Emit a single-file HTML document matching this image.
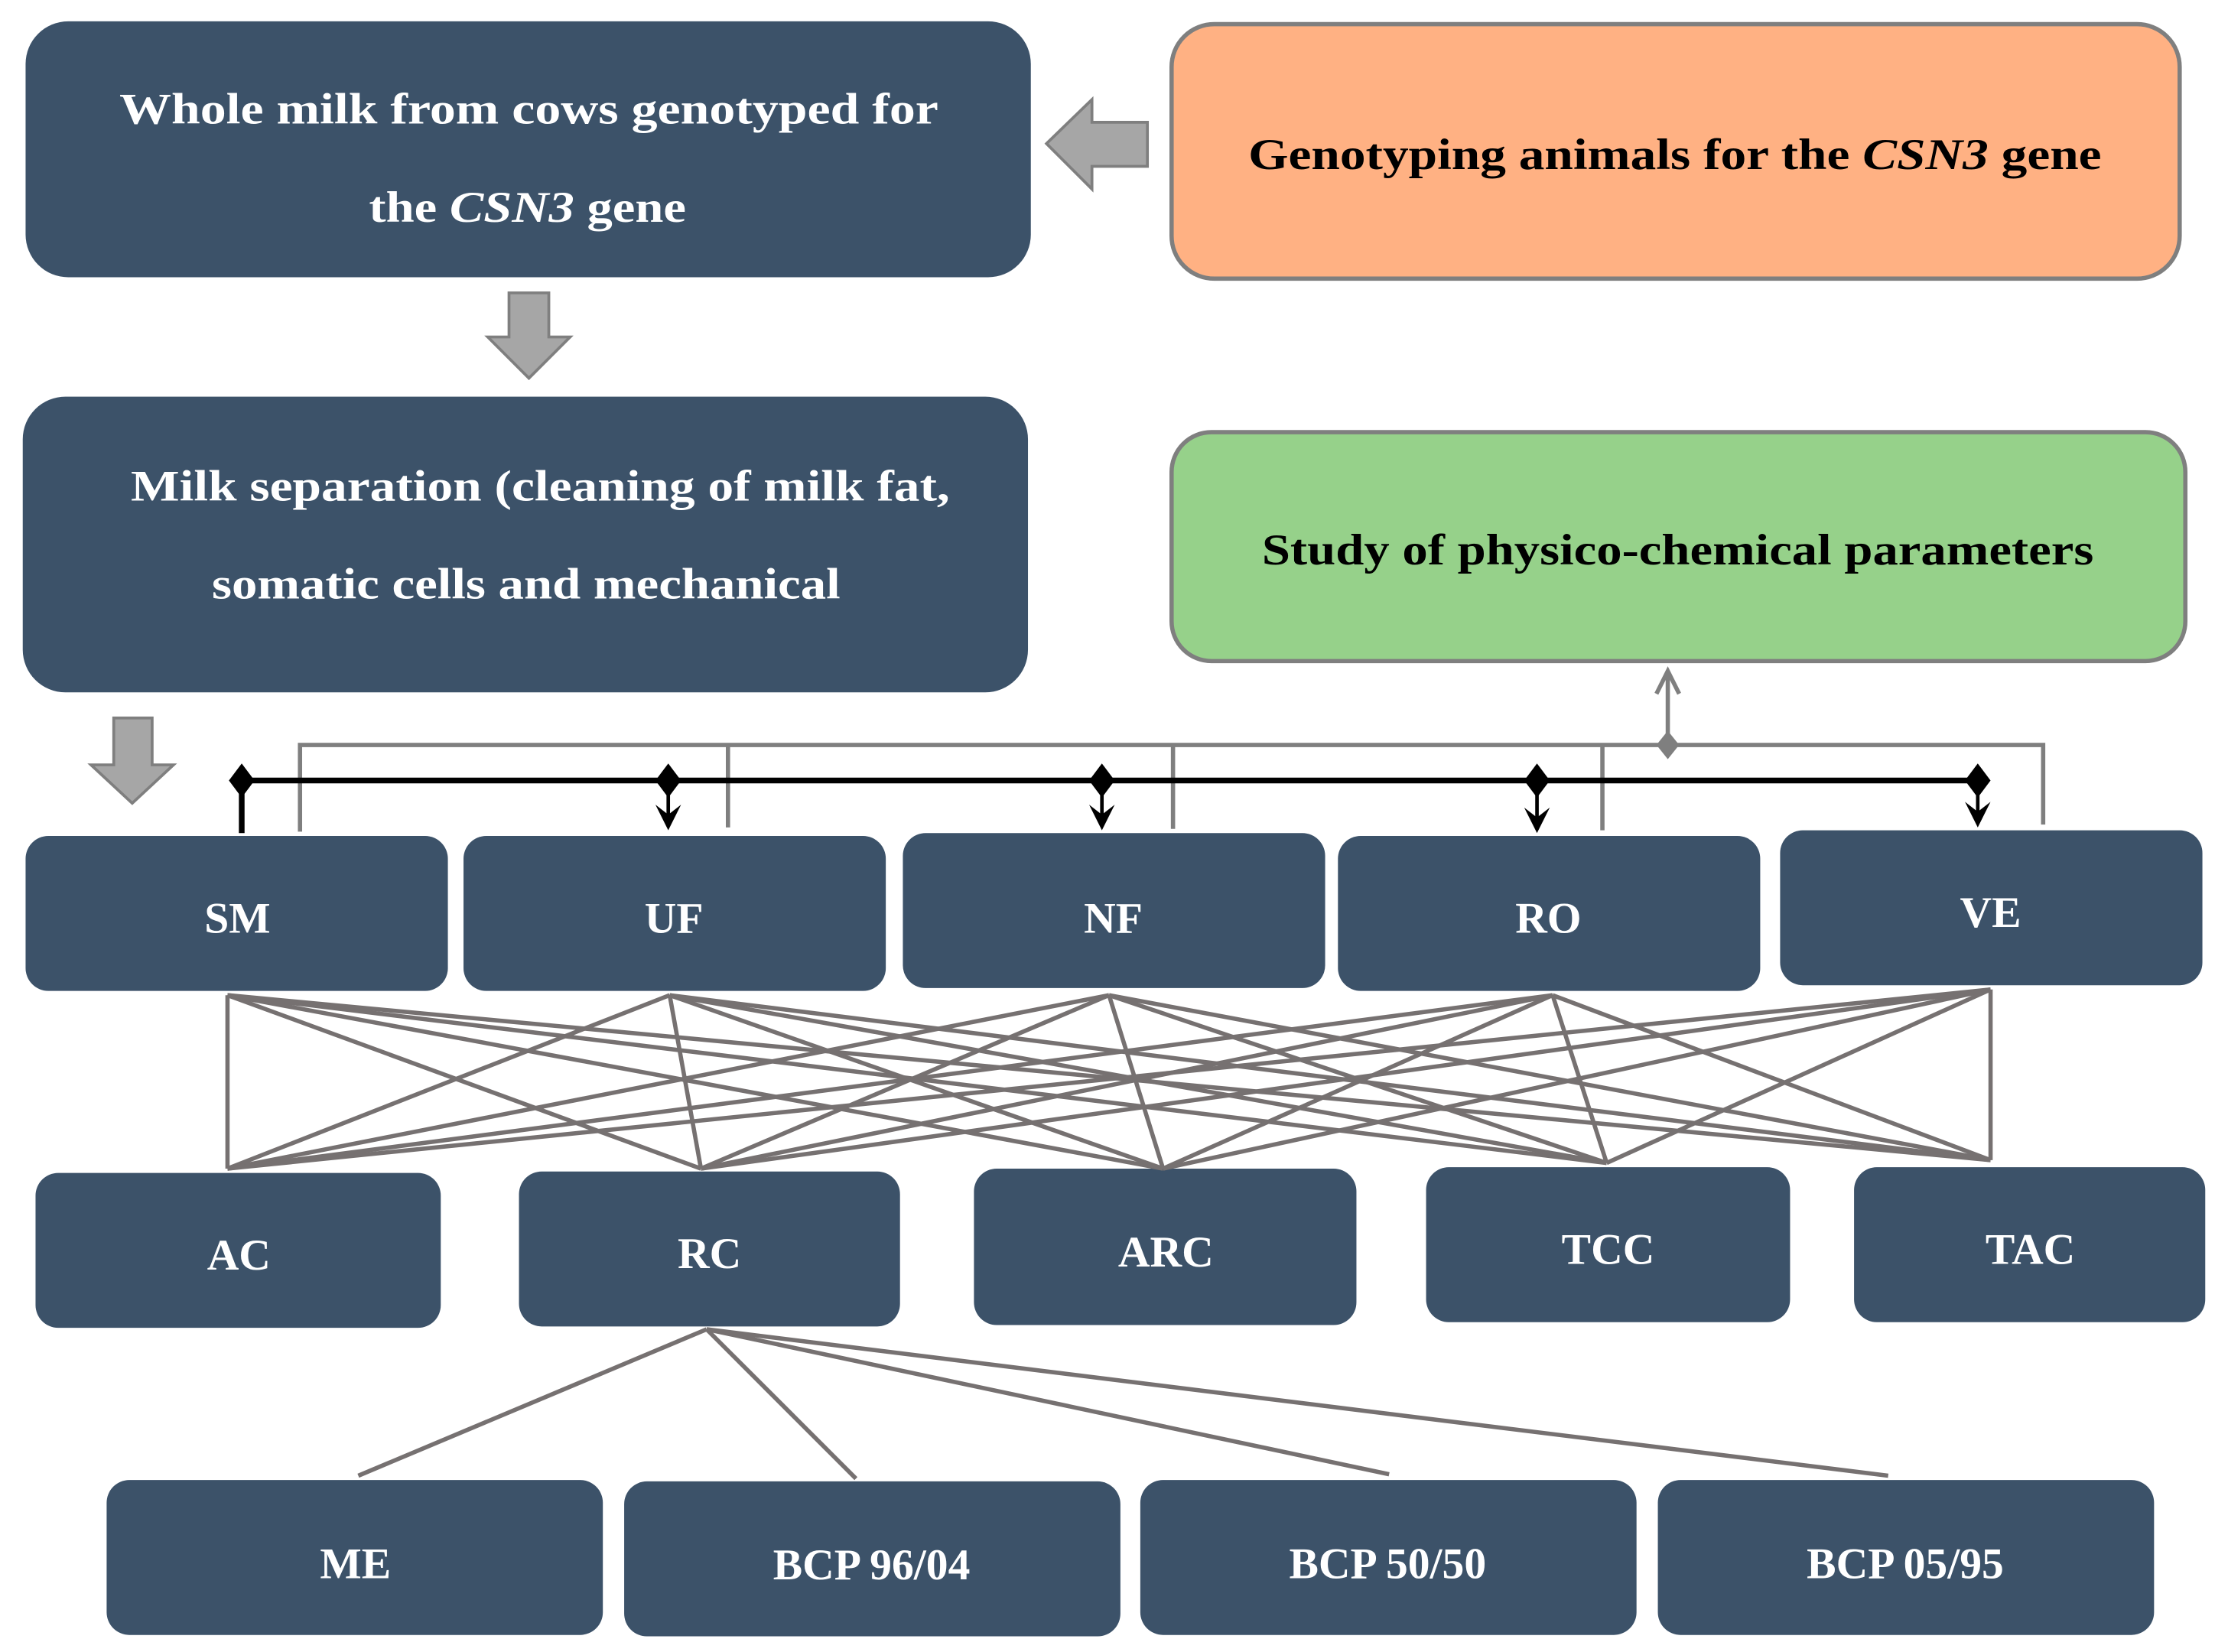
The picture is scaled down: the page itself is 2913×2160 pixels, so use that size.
<!DOCTYPE html>
<html><head><meta charset="utf-8"><style>html,body{margin:0;padding:0;background:#fff}svg{display:block}</style></head><body>
<svg width="2913" height="2160" viewBox="0 0 1567 1162" preserveAspectRatio="none" xmlns="http://www.w3.org/2000/svg" font-family="Liberation Serif, serif">
<g fill="#3C5269">
<rect x="18" y="15" width="707" height="180" rx="30"/>
<rect x="16" y="279" width="707" height="208" rx="30"/>
<rect x="18" y="588" width="297" height="109" rx="16"/>
<rect x="326" y="588" width="297" height="109" rx="16"/>
<rect x="635" y="586" width="297" height="109" rx="16"/>
<rect x="941" y="588" width="297" height="109" rx="16"/>
<rect x="1252" y="584" width="297" height="109" rx="16"/>
<rect x="25" y="825" width="285" height="109" rx="16"/>
<rect x="365" y="824" width="268" height="109" rx="16"/>
<rect x="685" y="822" width="269" height="110" rx="16"/>
<rect x="1003" y="821" width="256" height="109" rx="16"/>
<rect x="1304" y="821" width="247" height="109" rx="16"/>
<rect x="75" y="1041" width="349" height="109" rx="16"/>
<rect x="439" y="1042" width="349" height="109" rx="16"/>
<rect x="802" y="1041" width="349" height="109" rx="16"/>
<rect x="1166" y="1041" width="349" height="109" rx="16"/>
</g>
<rect x="824" y="17" width="709" height="179" rx="30" fill="#FFB183" stroke="#7f7f7f" stroke-width="3"/>
<rect x="824" y="304" width="713" height="161" rx="28" fill="#96D18A" stroke="#7f7f7f" stroke-width="3"/>
<g fill="#a6a6a6" stroke="#7f7f7f" stroke-width="2">
<path d="M807,86 L768,86 L768,70 L736,101 L768,133 L768,117 L807,117 Z"/>
<path d="M358,206 L386,206 L386,237 L401,237 L372,266 L343,237 L358,237 Z"/>
<path d="M80,505 L107,505 L107,538 L122,538 L93,565 L64,538 L80,538 Z"/>
</g>
<g stroke="#7f7f7f" stroke-width="3" fill="none">
<polyline points="211,585 211,524 1437,524 1437,580"/>
<line x1="512" y1="524" x2="512" y2="582"/>
<line x1="825" y1="524" x2="825" y2="583"/>
<line x1="1127" y1="524" x2="1127" y2="584"/>
<line x1="1173" y1="524" x2="1173" y2="474"/>
<polyline points="1165,488 1173,472 1181,488"/>
</g>
<path d="M1173,514 L1181,524 L1173,534 L1165,524 Z" fill="#7f7f7f"/>
<g stroke="#000" stroke-width="4">
<line x1="170" y1="549" x2="1391" y2="549"/>
<line x1="170" y1="549" x2="170" y2="586"/>
</g>
<g stroke="#000" stroke-width="2.5">
<line x1="470" y1="549" x2="470" y2="580"/>
<line x1="775" y1="549" x2="775" y2="580"/>
<line x1="1081" y1="549" x2="1081" y2="582"/>
<line x1="1391" y1="549" x2="1391" y2="578"/>
</g>
<g fill="#000">
<path d="M170,537 L179,549 L170,561 L161,549 Z"/>
<path d="M470,537 L479,549 L470,561 L461,549 Z"/>
<path d="M775,537 L784,549 L775,561 L766,549 Z"/>
<path d="M1081,537 L1090,549 L1081,561 L1072,549 Z"/>
<path d="M1391,537 L1400,549 L1391,561 L1382,549 Z"/>
<path d="M461,566 L470,584 L479,566 L470,573 Z"/>
<path d="M766,566 L775,584 L784,566 L775,573 Z"/>
<path d="M1072,568 L1081,586 L1090,568 L1081,575 Z"/>
<path d="M1382,564 L1391,582 L1400,564 L1391,571 Z"/>
</g>
<g stroke="#767171" stroke-width="3">
<line x1="160" y1="700" x2="160" y2="822"/><line x1="160" y1="700" x2="493" y2="822"/><line x1="160" y1="700" x2="818" y2="822"/><line x1="160" y1="700" x2="1130" y2="818"/><line x1="160" y1="700" x2="1400" y2="816"/>
<line x1="471" y1="700" x2="160" y2="822"/><line x1="471" y1="700" x2="493" y2="822"/><line x1="471" y1="700" x2="818" y2="822"/><line x1="471" y1="700" x2="1130" y2="818"/><line x1="471" y1="700" x2="1400" y2="816"/>
<line x1="780" y1="700" x2="160" y2="822"/><line x1="780" y1="700" x2="493" y2="822"/><line x1="780" y1="700" x2="818" y2="822"/><line x1="780" y1="700" x2="1130" y2="818"/><line x1="780" y1="700" x2="1400" y2="816"/>
<line x1="1092" y1="700" x2="160" y2="822"/><line x1="1092" y1="700" x2="493" y2="822"/><line x1="1092" y1="700" x2="818" y2="822"/><line x1="1092" y1="700" x2="1130" y2="818"/><line x1="1092" y1="700" x2="1400" y2="816"/>
<line x1="1400" y1="696" x2="160" y2="822"/><line x1="1400" y1="696" x2="493" y2="822"/><line x1="1400" y1="696" x2="818" y2="822"/><line x1="1400" y1="696" x2="1130" y2="818"/><line x1="1400" y1="696" x2="1400" y2="816"/>
<line x1="497" y1="935" x2="252" y2="1038"/><line x1="497" y1="935" x2="602" y2="1040"/><line x1="497" y1="935" x2="977" y2="1037"/><line x1="497" y1="935" x2="1328" y2="1038"/>
</g>
<g fill="#fff" font-size="31" text-anchor="middle" font-weight="bold">
<text x="372" y="87" textLength="576" lengthAdjust="spacingAndGlyphs">Whole milk from cows genotyped for</text>
<text x="371" y="156" textLength="223" lengthAdjust="spacingAndGlyphs">the <tspan font-style="italic">CSN3</tspan> gene</text>
<text x="380" y="352" textLength="576" lengthAdjust="spacingAndGlyphs">Milk separation (cleaning of milk fat,</text>
<text x="370" y="421" textLength="442" lengthAdjust="spacingAndGlyphs">somatic cells and mechanical</text>
<text x="167" y="656">SM</text><text x="474" y="656">UF</text><text x="783" y="656">NF</text><text x="1089" y="656">RO</text><text x="1400" y="652">VE</text>
<text x="168" y="893">AC</text><text x="499" y="892">RC</text><text x="820" y="891">ARC</text><text x="1131" y="889">TCC</text><text x="1428" y="889">TAC</text>
<text x="250" y="1110">ME</text><text x="613" y="1111">BCP 96/04</text><text x="976" y="1110">BCP 50/50</text><text x="1340" y="1110">BCP 05/95</text>
</g>
<g fill="#000" font-size="31" text-anchor="middle" font-weight="bold">
<text x="1178" y="119" textLength="600" lengthAdjust="spacingAndGlyphs">Genotyping animals for the <tspan font-style="italic">CSN3</tspan> gene</text>
<text x="1180" y="397" textLength="585" lengthAdjust="spacingAndGlyphs">Study of physico-chemical parameters</text>
</g>
</svg>
</body></html>
